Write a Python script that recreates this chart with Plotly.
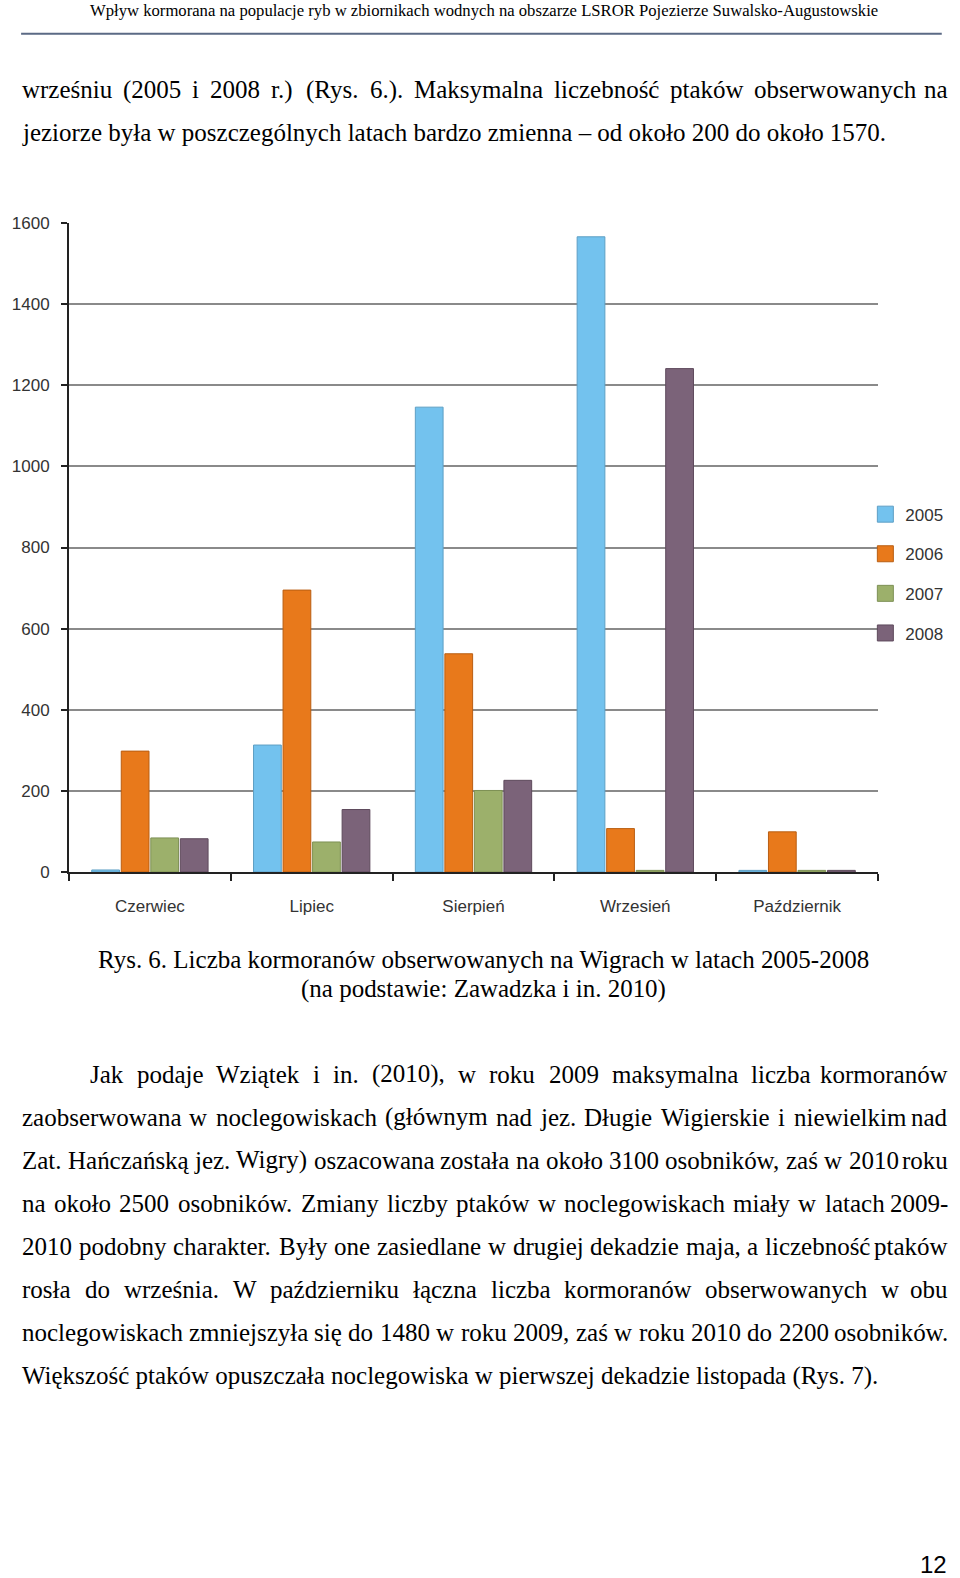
import plotly.graph_objects as go

# ---------------- data ----------------
months = ["Czerwiec", "Lipiec", "Sierpień", "Wrzesień", "Październik"]
years = ["2005", "2006", "2007", "2008"]
v2005 = [5, 313, 1146, 1566, 4]
v2006 = [298, 695, 538, 107, 99]
v2007 = [84, 74, 201, 4, 4]
v2008 = [82, 154, 226, 1241, 4]
y_ticks = [0, 200, 400, 600, 800, 1000, 1200, 1400, 1600]

header_text = "Wpływ kormorana na populacje ryb w zbiornikach wodnych na obszarze LSROR Pojezierze Suwalsko-Augustowskie"
para1 = [
    ("wrześniu (2005 i 2008 r.) (Rys. 6.). Maksymalna liczebność ptaków obserwowanych na", True),
    ("jeziorze była w poszczególnych latach bardzo zmienna – od około 200 do około 1570.", False),
]
caption = [
    "Rys. 6. Liczba kormoranów obserwowanych na Wigrach w latach 2005-2008",
    "(na podstawie: Zawadzka i in. 2010)",
]
para2 = [
    ("Jak podaje Wziątek i in. (2010), w roku 2009 maksymalna liczba kormoranów", True),
    ("zaobserwowana w noclegowiskach (głównym nad jez. Długie Wigierskie i niewielkim nad", True),
    ("Zat. Hańczańską jez. Wigry) oszacowana została na około 3100 osobników, zaś w 2010 roku", True),
    ("na około 2500 osobników. Zmiany liczby ptaków w noclegowiskach miały w latach 2009-", True),
    ("2010 podobny charakter. Były one zasiedlane w drugiej dekadzie maja, a liczebność ptaków", True),
    ("rosła do września. W październiku łączna liczba kormoranów obserwowanych w obu", True),
    ("noclegowiskach zmniejszyła się do 1480 w roku 2009, zaś w roku 2010 do 2200 osobników.", True),
    ("Większość ptaków opuszczała noclegowiska w pierwszej dekadzie listopada (Rys. 7).", False),
]
page_no = "12"

colors = ["#73C2EE", "#E8791B", "#9CB06B", "#7B6379"]
edge = ["#5E9FC4", "#B95E12", "#7E9155", "#5E4A5C"]

# ---------------- geometry helpers ----------------
W_PAGE, H_PAGE = 960, 1578
# the photographed page comes out slightly narrowed about its centre: map target pixels to page pixels
SX = 0.972
OX = 480 * (1 - SX)
SY, OY = 0.994, -0.6
def cx(x):
    return (x - OX) / SX
def cy(y):
    return (y - OY) / SY
def clampx(x):
    return min(max(x, 0.5), 959.0)

PL, PR, PT, PB = cx(62), cx(874), cy(221), cy(866)
def xp(xc):            # page pixel -> paper
    return (xc - PL) / (PR - PL)
def yp(yc):
    return (PB - yc) / (PB - PT)

TW = {' ': 250, 'a': 444, 'b': 500, 'c': 444, 'd': 500, 'e': 444, 'f': 333, 'g': 500,
      'h': 500, 'i': 278, 'j': 278, 'k': 500, 'l': 278, 'm': 778, 'n': 500, 'o': 500,
      'p': 500, 'q': 500, 'r': 333, 's': 389, 't': 278, 'u': 500, 'v': 500, 'w': 722,
      'x': 500, 'y': 500, 'z': 444, 'A': 722, 'B': 667, 'C': 667, 'D': 722, 'E': 611,
      'F': 556, 'G': 722, 'H': 722, 'I': 333, 'J': 389, 'K': 722, 'L': 611, 'M': 889,
      'N': 722, 'O': 722, 'P': 556, 'Q': 722, 'R': 667, 'S': 556, 'T': 611, 'U': 722,
      'V': 722, 'W': 944, 'X': 722, 'Y': 722, 'Z': 611, '.': 250, ',': 250, '(': 333,
      ')': 333, '-': 333, ':': 278, '–': 500,
      'ą': 444, 'ę': 444, 'ł': 278, 'ó': 500, 'ś': 389, 'ć': 444, 'ń': 500, 'ź': 444,
      'ż': 444, 'Ś': 556, 'Ł': 611, 'Ż': 611, 'Ź': 611}
for d in "0123456789":
    TW[d] = 500
RENDER_K = 1.025    # rendered text comes out a little wider than the nominal metrics

def em(s):
    return sum(TW.get(c, 500) for c in s) / 1000.0
def rw(s, fs):
    return em(s) * fs * RENDER_K

SERIF = "Liberation Serif, Times New Roman, serif"
SANS = "Liberation Sans, Arial, sans-serif"

# body size: fitted to target widths, but capped so that every justified line keeps real spaces
_t = [(para1[1][0], 860), (para2[7][0], 856), (caption[0], 771)]
FS = sum((w / SX) / (em(t) * RENDER_K) for t, w in _t) / len(_t)
MIN_GAP_EM = 0.22
for lines in (para1, para2):
    for idx, (ln, j) in enumerate(lines):
        if not j:
            continue
        x0 = clampx(cx(82 if (lines is para2 and idx == 0) else 8))
        avail = clampx(cx(948)) - x0
        words = ln.split(" ")
        need_em = sum(em(w) for w in words) * RENDER_K + MIN_GAP_EM * (len(words) - 1)
        FS = min(FS, avail / need_em)
FS_H = (786 / SX) / (em(header_text) * RENDER_K)

annotations = []
def add_text(text, xc, base_c, fs, anchor="left", family=SERIF, color="#000000"):
    center = base_c - 0.3375 * fs
    annotations.append(dict(text=text, x=xp(xc), y=yp(center), xref="paper", yref="paper",
                            xanchor=anchor, yanchor="middle", showarrow=False,
                            font=dict(family=family, size=fs, color=color), borderpad=0))

def add_line(text, x0_ref, x1_ref, base_ref, justify):
    x0, x1, b = clampx(cx(x0_ref)), clampx(cx(x1_ref)), cy(base_ref)
    if not justify:
        add_text(text, x0, b, FS)
        return
    words = text.split(" ")
    widths = [rw(w, FS) for w in words]
    gap = (x1 - x0 - sum(widths)) / (len(words) - 1)
    x = x0
    for i, (w, wd) in enumerate(zip(words, widths)):
        if i == len(words) - 1:
            add_text(w, x1, b, FS, anchor="right")
        else:
            add_text(w, x, b, FS)
        x += wd + gap

add_text(header_text, cx(479), cy(15), FS_H, anchor="center")
for i, (ln, j) in enumerate(para1):
    add_line(ln, 8, 948, 97 + 42.5 * i, j)
add_text(caption[0], cx(478.5), cy(961.5), FS, anchor="center")
add_text(caption[1], cx(478.5), cy(991), FS, anchor="center")
for i, (ln, j) in enumerate(para2):
    add_line(ln, 82 if i == 0 else 8, 948, 1075.5 + 42.8 * i, j)
add_text(page_no, 958, 1572.5, 24, anchor="right", family=SANS)

# ---------------- figure ----------------
fig = go.Figure()
series = [v2005, v2006, v2007, v2008]
for k, (yr, vals) in enumerate(zip(years, series)):
    fig.add_trace(go.Bar(x=months, y=vals, name=yr, showlegend=False,
                         marker=dict(color=colors[k], line=dict(color=edge[k], width=1))))
for k, yr in enumerate(years):
    fig.add_trace(go.Scatter(x=[None], y=[None], mode="markers", name=yr, legendgroup=yr,
                             marker=dict(symbol="square", size=16, color=colors[k],
                                         line=dict(color=edge[k], width=1))))

fig.update_layout(
    width=W_PAGE, height=H_PAGE,
    margin=dict(l=PL, r=W_PAGE - PR, t=PT, b=H_PAGE - PB, pad=0),
    paper_bgcolor="white", plot_bgcolor="white",
    barmode="group", bargap=0.27, bargroupgap=0.06,
    showlegend=True,
    legend=dict(x=xp(958), y=yp(496.5), xanchor="right", yanchor="top",
                font=dict(family=SANS, size=17, color="#333333"),
                traceorder="grouped", tracegroupgap=14.5, bgcolor="rgba(0,0,0,0)"),
    annotations=annotations,
    shapes=[dict(type="line", xref="paper", yref="paper", x0=xp(clampx(cx(8))), x1=xp(cx(938)),
                 y0=yp(cy(33)), y1=yp(cy(33)), line=dict(color="#5B6A85", width=2))],
)
fig.update_xaxes(categoryorder="array", categoryarray=months,
                 showline=True, linecolor="#222222", linewidth=2,
                 ticks="outside", tickson="boundaries", ticklen=7, tickwidth=2, tickcolor="#222222",
                 tickfont=dict(family=SANS, size=17, color="#333333"), ticklabelstandoff=18,
                 showgrid=False)
fig.update_yaxes(range=[0, 1600], tickvals=y_ticks, showline=True, linecolor="#222222", linewidth=2,
                 ticks="outside", ticklen=6, tickwidth=2, tickcolor="#222222",
                 tickfont=dict(family=SANS, size=17, color="#333333"), ticklabelstandoff=8,
                 showgrid=True, gridcolor="#8A8A8A", gridwidth=1.5, zeroline=False)

fig.write_html("out.html", config={"displayModeBar": False},
               post_script="document.body.style.margin='0';document.body.style.overflow='hidden';"
                           "document.documentElement.style.overflow='hidden';")
